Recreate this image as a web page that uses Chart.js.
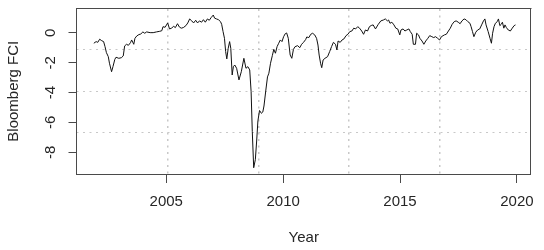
<!DOCTYPE html>
<html>
<head>
<meta charset="utf-8">
<script src="https://cdn.jsdelivr.net/npm/chart.js"></script>
<style>
  html, body { margin: 0; padding: 0; background: #fff; }
  #wrap { width: 544px; height: 250px; }
</style>
</head>
<body>
<div id="wrap"><canvas id="fciChart" width="544" height="250"></canvas></div>
<script>
// Bloomberg FCI (decimal year, index value)
const years = [
  2001.90, 2002.00, 2002.07, 2002.15, 2002.24, 2002.32, 2002.38, 2002.44, 2002.52, 2002.57,
  2002.66, 2002.72, 2002.80, 2002.85, 2002.97, 2003.08, 2003.16, 2003.22, 2003.30, 2003.38,
  2003.47, 2003.52, 2003.61, 2003.66, 2003.74, 2003.83, 2003.91, 2004.00, 2004.08, 2004.16,
  2004.31, 2004.44, 2004.58, 2004.72, 2004.81, 2004.86, 2004.95, 2005.06, 2005.14, 2005.23,
  2005.31, 2005.39, 2005.48, 2005.56, 2005.64, 2005.73, 2005.84, 2005.92, 2006.00, 2006.09,
  2006.17, 2006.26, 2006.34, 2006.42, 2006.51, 2006.59, 2006.67, 2006.76, 2006.84, 2006.92,
  2007.01, 2007.07, 2007.15, 2007.23, 2007.32, 2007.37, 2007.43, 2007.49, 2007.54, 2007.59,
  2007.65, 2007.71, 2007.76, 2007.82, 2007.87, 2007.93, 2008.01, 2008.11, 2008.21, 2008.32,
  2008.41, 2008.49, 2008.57, 2008.63, 2008.68, 2008.74, 2008.81, 2008.87, 2008.92, 2008.99,
  2009.07, 2009.13, 2009.18, 2009.26, 2009.33, 2009.39, 2009.46, 2009.54, 2009.60, 2009.67,
  2009.74, 2009.81, 2009.88, 2009.95, 2010.02, 2010.09, 2010.15, 2010.22, 2010.30, 2010.37,
  2010.44, 2010.51, 2010.62, 2010.71, 2010.79, 2010.87, 2010.96, 2011.01, 2011.10, 2011.18,
  2011.26, 2011.35, 2011.43, 2011.49, 2011.54, 2011.60, 2011.65, 2011.71, 2011.79, 2011.90,
  2011.99, 2012.07, 2012.15, 2012.24, 2012.30, 2012.35, 2012.44, 2012.52, 2012.60, 2012.69,
  2012.77, 2012.85, 2012.94, 2013.02, 2013.10, 2013.19, 2013.27, 2013.36, 2013.44, 2013.52,
  2013.61, 2013.69, 2013.77, 2013.85, 2013.95, 2014.07, 2014.18, 2014.29, 2014.37, 2014.46,
  2014.51, 2014.57, 2014.65, 2014.74, 2014.82, 2014.90, 2014.99, 2015.04, 2015.13, 2015.21,
  2015.29, 2015.38, 2015.44, 2015.52, 2015.57, 2015.66, 2015.71, 2015.79, 2015.85, 2015.94,
  2016.02, 2016.10, 2016.19, 2016.27, 2016.36, 2016.44, 2016.52, 2016.61, 2016.69, 2016.77,
  2016.90, 2016.98, 2017.07, 2017.15, 2017.23, 2017.32, 2017.40, 2017.49, 2017.57, 2017.65,
  2017.74, 2017.82, 2017.90, 2017.99, 2018.04, 2018.10, 2018.16, 2018.24, 2018.32, 2018.41,
  2018.49, 2018.57, 2018.63, 2018.68, 2018.77, 2018.85, 2018.91, 2018.96, 2019.02, 2019.08,
  2019.16, 2019.21, 2019.27, 2019.33, 2019.38, 2019.44, 2019.49, 2019.55, 2019.63, 2019.72,
  2019.80, 2019.88, 2019.94
];
const fci = [
  -0.69, -0.58, -0.63, -0.42, -0.52, -0.58, -0.92, -1.32, -1.59, -2.03,
  -2.60, -2.26, -1.77, -1.63, -1.70, -1.66, -1.54, -0.87, -0.76, -0.83,
  -0.65, -0.47, -0.76, -0.36, -0.20, -0.11, -0.07, 0.07, -0.02, 0.07,
  0.02, 0.02, 0.07, 0.11, 0.15, 0.42, 0.38, 0.67, 0.27, 0.32,
  0.45, 0.36, 0.62, 0.40, 0.32, 0.36, 0.49, 0.67, 0.94, 0.81,
  0.67, 0.85, 0.67, 0.81, 0.72, 0.89, 0.72, 0.94, 0.85, 1.03,
  1.20, 0.99, 0.94, 0.89, 0.76, 0.58, 0.09, -0.36, -1.25, -1.74,
  -1.03, -0.58, -1.03, -2.82, -2.26, -2.15, -2.37, -3.15, -2.60, -1.70,
  -2.37, -2.26, -2.48, -3.94, -6.62, -9.04, -8.50, -7.18, -5.90, -5.20,
  -5.39, -5.30, -4.90, -3.83, -2.95, -2.70, -2.03, -1.50, -1.10, -1.36,
  -0.92, -0.69, -0.47, -0.58, -0.25, -0.05, 0.00, -0.36, -1.48, -1.70,
  -1.10, -0.92, -0.85, -0.99, -0.76, -0.63, -0.45, -0.27, -0.31, -0.09,
  -0.02, -0.13, -0.36, -0.81, -1.48, -2.03, -2.33, -1.81, -1.70, -1.59,
  -1.25, -0.92, -0.63, -0.76, -1.14, -0.54, -0.63, -0.47, -0.40, -0.18,
  -0.09, 0.09, 0.13, 0.32, 0.27, 0.42, 0.32, 0.13, -0.09, 0.20,
  0.13, 0.42, 0.50, 0.54, 0.27, 0.58, 0.81, 0.87, 0.94, 0.81,
  0.87, 0.65, 0.72, 0.54, 0.32, 0.27, -0.13, 0.20, 0.27, 0.13,
  0.20, 0.27, 0.09, -0.09, -0.76, -0.76, -0.02, -0.13, -0.36, -0.54,
  -0.76, -0.54, -0.36, -0.18, -0.25, -0.31, -0.25, -0.36, -0.47, -0.25,
  -0.13, -0.09, 0.13, 0.32, 0.58, 0.76, 0.81, 0.72, 0.62, 0.81,
  0.94, 0.89, 0.76, 0.65, 0.42, 0.09, -0.25, 0.05, 0.20, 0.27,
  0.54, 0.81, 0.94, 0.54, 0.09, -0.36, -0.69, -0.02, 0.42, 0.65,
  0.76, 0.94, 0.49, 0.58, 0.72, 0.32, 0.54, 0.36, 0.20, 0.13,
  0.32, 0.49, 0.54
];
const xTicks = [2005, 2010, 2015, 2020];
const yTicks = [0, -2, -4, -6, -8];

// R-style axis limits (data range + 4%)
const xMin = 2001.16, xMax = 2020.6;
const yMin = -9.46, yMax = 1.64;

const textColor = '#262626';
const boxColor = '#4a4a4a';
const gridColor = '#c8c8c8';
const fontFamily = '"Liberation Sans", Arial, sans-serif';

// grid() style: evenly spaced dotted lines over the plot region
const evenSplit = (n) => (scale) => {
    const lo = scale.min, hi = scale.max;
    scale.ticks = [];
    for (let k = 1; k < n; k++) scale.ticks.push({ value: lo + k * (hi - lo) / n });
};

// y tick labels are rotated like R's las=0
const rotatedYLabels = {
    id: 'rotatedYLabels',
    afterDraw(chart) {
        const { ctx } = chart;
        const yScale = chart.scales.y;
        ctx.save();
        ctx.font = '15px ' + fontFamily;
        ctx.fillStyle = textColor;
        ctx.textAlign = 'center';
        ctx.textBaseline = 'middle';
        yTicks.forEach(v => {
            ctx.save();
            ctx.translate(51, yScale.getPixelForValue(v));
            ctx.rotate(-Math.PI / 2);
            ctx.fillText(String(v), 0, 0);
            ctx.restore();
        });
        ctx.restore();
    }
};

new Chart(document.getElementById('fciChart'), {
    type: 'line',
    data: {
        datasets: [{
            data: years.map((x, i) => ({ x, y: fci[i] })),
            borderColor: '#111',
            borderWidth: 1,
            pointRadius: 0,
            tension: 0,
            fill: false
        }]
    },
    options: {
        responsive: false,
        animation: false,
        devicePixelRatio: 1,
        layout: { padding: { top: 8.5, right: 3, left: 0, bottom: 0 } },
        plugins: { legend: { display: false }, tooltip: { enabled: false } },
        scales: {
            x: {
                type: 'linear', position: 'bottom', min: xMin, max: xMax,
                afterBuildTicks: (s) => { s.ticks = xTicks.map(v => ({ value: v })); },
                afterFit: (s) => { s.height = 76; },
                ticks: { callback: (v) => String(v), color: textColor, padding: 10, maxRotation: 0,
                         font: { size: 15, family: fontFamily } },
                grid: { drawOnChartArea: false, drawTicks: true, tickLength: 9, tickColor: boxColor },
                border: { display: true, color: boxColor, width: 1 },
                title: { display: true, text: 'Year', color: textColor, padding: { top: 0, bottom: 3 },
                         font: { size: 15, family: fontFamily } }
            },
            y: {
                type: 'linear', position: 'left', min: yMin, max: yMax,
                afterBuildTicks: (s) => { s.ticks = yTicks.map(v => ({ value: v })); },
                afterFit: (s) => { s.width = 76.5; },
                ticks: { display: false },
                grid: { drawOnChartArea: false, drawTicks: true, tickLength: 8, tickColor: boxColor },
                border: { display: true, color: boxColor, width: 1 },
                title: { display: true, text: 'Bloomberg FCI', color: textColor, padding: { top: 5, bottom: 0 },
                         font: { size: 15, family: fontFamily } }
            },
            xGrid: {
                type: 'linear', position: 'top', min: xMin, max: xMax,
                afterBuildTicks: evenSplit(5),
                afterFit: (s) => { s.height = 0; },
                ticks: { display: false },
                grid: { drawOnChartArea: true, drawTicks: false, color: gridColor, lineWidth: 1.5 },
                border: { display: true, color: boxColor, width: 1, dash: [2, 4.5] }
            },
            yGrid: {
                type: 'linear', position: 'right', min: yMin, max: yMax,
                afterBuildTicks: evenSplit(4),
                afterFit: (s) => { s.width = 0; },
                ticks: { display: false },
                grid: { drawOnChartArea: true, drawTicks: false, color: gridColor, lineWidth: 1 },
                border: { display: true, color: boxColor, width: 1, dash: [2, 4.5] }
            }
        }
    },
    plugins: [rotatedYLabels]
});
</script>
</body>
</html>
